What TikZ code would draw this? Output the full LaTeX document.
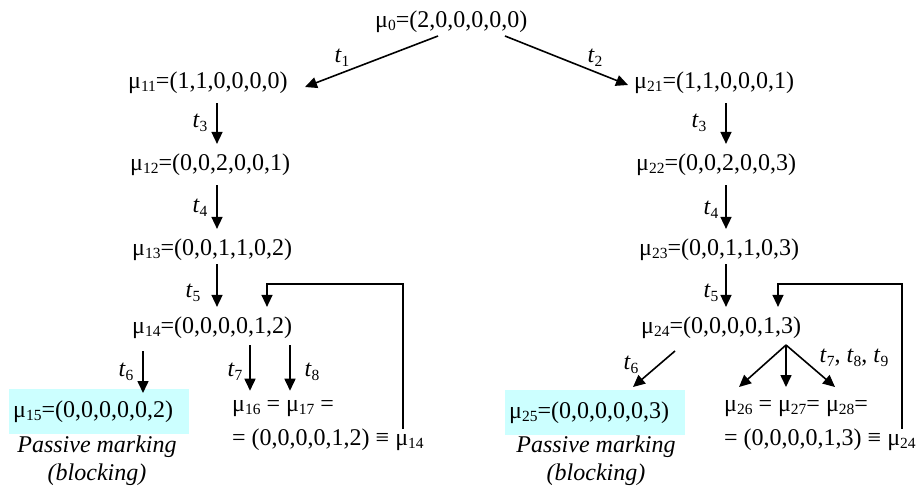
\documentclass[tikz,border=0pt]{standalone}
\usepackage{fontspec}
\setmainfont{Liberation Serif}
\usetikzlibrary{arrows.meta,calc}
\definecolor{passive}{RGB}{204,255,255}
\newcommand{\mk}[1]{μ\raisebox{-0.12em}{\fontsize{15.5}{15.5}\selectfont #1}}
\newcommand{\tl}[1]{\textit{t}\raisebox{-0.15em}{\fontsize{15.5}{15.5}\selectfont #1}}
\begin{document}
\begin{tikzpicture}[x=1pt,y=-1pt,
  every node/.style={font=\fontsize{24}{28}\selectfont, inner sep=0pt},
  mrk/.style={anchor=west},
  lbl/.style={anchor=center},
  pbox/.style={fill=passive, anchor=north west, text width=172pt, align=left, inner xsep=4pt, minimum height=45pt},
  note/.style={font=\fontsize{24}{28}\itshape, anchor=center},
  arr/.style={-{Triangle[length=12pt,width=11pt]}, line width=1.6pt},
  fb/.style={-{Triangle[length=12pt,width=11pt]}, line width=1.3pt}]
\useasboundingbox (0,0) rectangle (916,491);
% column coordinates
\coordinate (cL) at (217,0);
\coordinate (cR) at (726,0);
\coordinate (c6) at (143,0);
\coordinate (c7) at (250,0);
\coordinate (c8) at (290,0);
\coordinate (fbLa) at (403,284);
\coordinate (fbLb) at (267,284);
\coordinate (fbRa) at (902,284);
\coordinate (fbRb) at (778,284);
% markings
\node[mrk] (m0) at (375,22) {\mk{0}=(2,0,0,0,0,0)};
\node[mrk] (m11) at (128,83) {\mk{11}=(1,1,0,0,0,0)};
\node[mrk] (m12) at (130,165) {\mk{12}=(0,0,2,0,0,1)};
\node[mrk] (m13) at (132,250) {\mk{13}=(0,0,1,1,0,2)};
\node[mrk] (m14) at (132,328) {\mk{14}=(0,0,0,0,1,2)};
\node[pbox] (m15) at (9,389) {\mk{15}=(0,0,0,0,0,2)};
\node[mrk] (m16a) at (232,409) {\mk{16} = \mk{17} =};
\node[mrk] (m16b) at (232,440) {= (0,0,0,0,1,2) ≡ \mk{14}};
\node[note] (p1) at (97,447) {Passive marking};
\node[note] (b1) at (97,475) {(blocking)};
\node[mrk] (m21) at (634,83) {\mk{21}=(1,1,0,0,0,1)};
\node[mrk] (m22) at (636,165) {\mk{22}=(0,0,2,0,0,3)};
\node[mrk] (m23) at (639,250) {\mk{23}=(0,0,1,1,0,3)};
\node[mrk] (m24) at (641,328) {\mk{24}=(0,0,0,0,1,3)};
\node[pbox] (m25) at (505,390) {\mk{25}=(0,0,0,0,0,3)};
\node[mrk] (m26a) at (724,409) {\mk{26} = \mk{27}= \mk{28}=};
\node[mrk] (m26b) at (724,440) {= (0,0,0,0,1,3) ≡ \mk{24}};
\node[note] (p2) at (596,447) {Passive marking};
\node[note] (b2) at (596,475) {(blocking)};
% labels
\node[lbl] (lt1) at (342,58) {\tl{1}};
\node[lbl] (lt2) at (595,58) {\tl{2}};
\node[lbl] (lt3) at (200,123) {\tl{3}};
\node[lbl] (lt4) at (200,208) {\tl{4}};
\node[lbl] (lt5) at (193,293) {\tl{5}};
\node[lbl] (lt6) at (126,372) {\tl{6}};
\node[lbl] (lt7) at (235,372) {\tl{7}};
\node[lbl] (lt8) at (312,372) {\tl{8}};
\node[lbl] (rt3) at (699,123) {\tl{3}};
\node[lbl] (rt4) at (711,210) {\tl{4}};
\node[lbl] (rt5) at (711,293) {\tl{5}};
\node[lbl] (rt6) at (631,365) {\tl{6}};
\node[lbl] (rt7) at (854,358) {\tl{7}, \tl{8}, \tl{9}};
% arrows
\draw[arr] ($(m0.west)+(63,14)$) -- ($(m11.west)+(177,4)$);
\draw[arr] ($(m0.west)+(130,14)$) -- ($(m21.west)+(-6,2)$);
\draw[arr, shorten <=9pt, shorten >=10pt] (m11.south -| cL) -- (m12.north -| cL);
\draw[arr, shorten <=9pt, shorten >=10pt] (m12.south -| cL) -- (m13.north -| cL);
\draw[arr, shorten <=3pt, shorten >=10pt] (m13.south -| cL) -- (m14.north -| cL);
\draw[arr, shorten <=12pt, shorten >=-4pt] (m14.south -| c6) -- (m15.north -| c6);
\draw[arr, shorten <=6pt] (m14.south -| c7) -- ($(m16a.north -| c7)+(0,-10)$);
\draw[arr, shorten <=6pt] (m14.south -| c8) -- ($(m16a.north -| c8)+(0,-10)$);
\draw[fb, shorten >=10pt] (m16b.north -| fbLa) -- (fbLa) -- (fbLb) -- (m14.north -| fbLb);
\draw[arr, shorten <=9pt, shorten >=10pt] (m21.south -| cR) -- (m22.north -| cR);
\draw[arr, shorten <=9pt, shorten >=10pt] (m22.south -| cR) -- (m23.north -| cR);
\draw[arr, shorten <=3pt, shorten >=10pt] (m23.south -| cR) -- (m24.north -| cR);
\draw[arr] ($(m24.west)+(34,23)$) -- ($(m25.north west)+(128,-3)$);
\draw[arr] ($(m24.west)+(145,17)$) -- ($(m26a.west)+(15,-22)$);
\draw[arr] ($(m24.west)+(145,17)$) -- ($(m26a.west)+(62,-22)$);
\draw[arr] ($(m24.west)+(145,17)$) -- ($(m26a.west)+(111,-22)$);
\draw[fb, shorten >=10pt] (m26b.north -| fbRa) -- (fbRa) -- (fbRb) -- (m24.north -| fbRb);
\end{tikzpicture}
\end{document}
